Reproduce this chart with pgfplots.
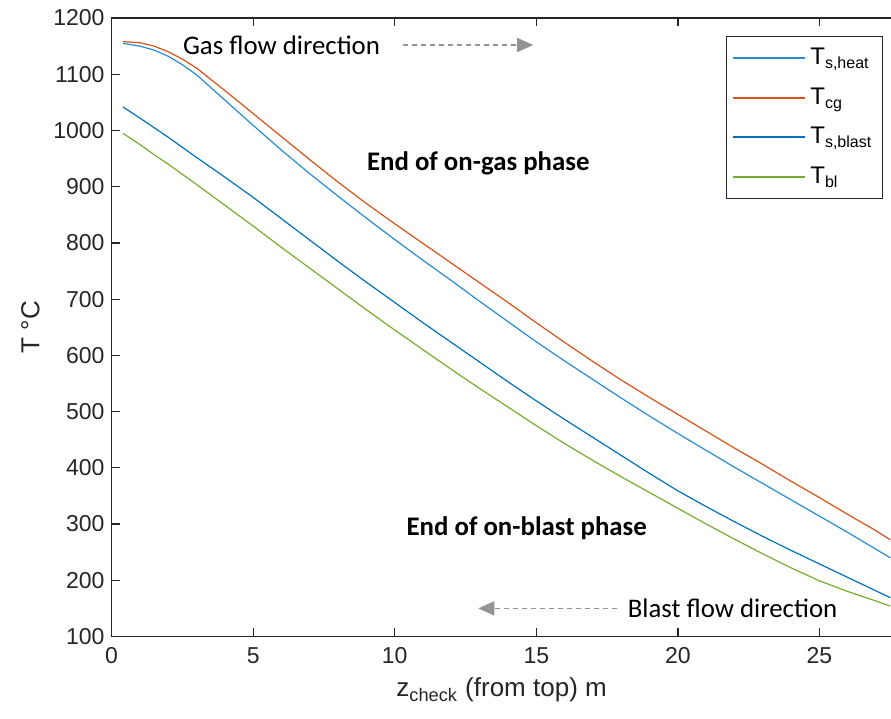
\documentclass[border=0pt]{standalone}
\usepackage{pgfplots}
\pgfplotsset{compat=1.18}
\usepackage{fontspec}
\setmainfont{Liberation Sans}
\newfontfamily\calfont{Carlito}
\usetikzlibrary{arrows.meta}
\definecolor{colheat}{RGB}{40,140,212}
\definecolor{colcg}{RGB}{217,83,25}
\definecolor{colblast}{RGB}{0,114,189}
\definecolor{colbl}{RGB}{119,172,48}
\definecolor{axc}{RGB}{38,38,38}
\pgfplotsset{mylegimg/.style={legend image code/.code={\draw[##1, line width=0.9pt] (0pt,0pt) -- (36pt,0pt);}}}
\pgfplotstableread{
x heat cg blast bl
0.4 1155 1158 1042 995
1 1150 1156 1022 975
1.5 1143 1150 1005 957
2 1132 1140 988 940
2.5 1117 1127 970 922
3 1099 1111 952 904
4 1054 1071 917 867
5 1009 1030 881 830
6 965 989 843 792
7 923 948 805 755
8 883 908 767 718
9 844 870 730 681
10 806 834 694 645
11 769 799 658 610
12 733 764 623 575
13 696 729 588 541
14 660 694 553 508
15 624 658 519 475
16 590 623 486 443
17 557 589 454 413
18 524 556 422 384
19 492 525 390 356
20 461 495 359 328
21 431 465 331 300
22 401 435 304 273
23 372 406 278 247
24 343 376 253 222
25 314 347 229 199
26 285 317 205 180
27 255 288 181 163
27.5 240 272 169 154
}\data
\begin{document}
\begin{tikzpicture}
\path[use as bounding box] (-55.75pt,-41pt) rectangle (389.4pt,318pt);
\begin{axis}[
  at={(0pt,0pt)}, anchor=south west,
  scale only axis, width=389.75pt, height=309pt,
  xmin=0, xmax=27.55, ymin=100, ymax=1200,
  xtick={0,5,10,15,20,25}, ytick={100,200,...,1200},
  ytick pos=left,
  axis line style={axc, line width=0.6pt},
  tick style={axc, line width=0.6pt, major tick length=4pt},
  tick align=inside,
  /pgf/number format/assume math mode=true,
  /pgf/number format/1000 sep={},
  ticklabel style={font=\fontsize{11.5}{13}\selectfont, text=axc},
  xticklabel style={yshift=-2pt},
  xlabel={z\textsubscript{check} (from top) m},
  ylabel={T °C},
  label style={font=\fontsize{13}{15}\selectfont, text=axc},
  mylegimg,
  legend style={at={(rel axis cs:0.9885,0.971)}, anchor=north east,
    draw=axc, font=\fontsize{12}{14}\selectfont,
    row sep=6pt, inner xsep=3pt, inner ysep=4pt},
  legend cell align=left,
]
\addplot[color=colheat, line width=0.6pt] table[x=x,y=heat]{\data};
\addplot[color=colcg, line width=0.6pt] table[x=x,y=cg]{\data};
\addplot[color=colblast, line width=0.6pt] table[x=x,y=blast]{\data};
\addplot[color=colbl, line width=0.6pt] table[x=x,y=bl]{\data};
\legend{T\textsubscript{s,heat}, T\textsubscript{cg}, T\textsubscript{s,blast}, T\textsubscript{bl}}
\node[font=\calfont\fontsize{13.4}{16}\selectfont] at (axis cs:6.0,1152) {Gas flow direction};
\node[font=\calfont\bfseries\fontsize{13.4}{16}\selectfont] at (axis cs:12.95,942) {End of on-gas phase};
\node[font=\calfont\bfseries\fontsize{13.4}{16}\selectfont] at (axis cs:14.66,292) {End of on-blast phase};
\node[font=\calfont\fontsize{13.4}{16}\selectfont] at (axis cs:21.93,150) {Blast flow direction};
\draw[gray!85, line width=0.8pt, dash pattern=on 2.5pt off 2pt, -{Triangle[length=8pt,width=7pt]}] (axis cs:10.30,1152) -- (axis cs:14.89,1152);
\draw[gray!85, line width=0.8pt, dash pattern=on 2.5pt off 2pt, -{Triangle[length=8pt,width=7pt]}] (axis cs:17.86,150) -- (axis cs:12.95,150);
\end{axis}
\end{tikzpicture}
\end{document}
